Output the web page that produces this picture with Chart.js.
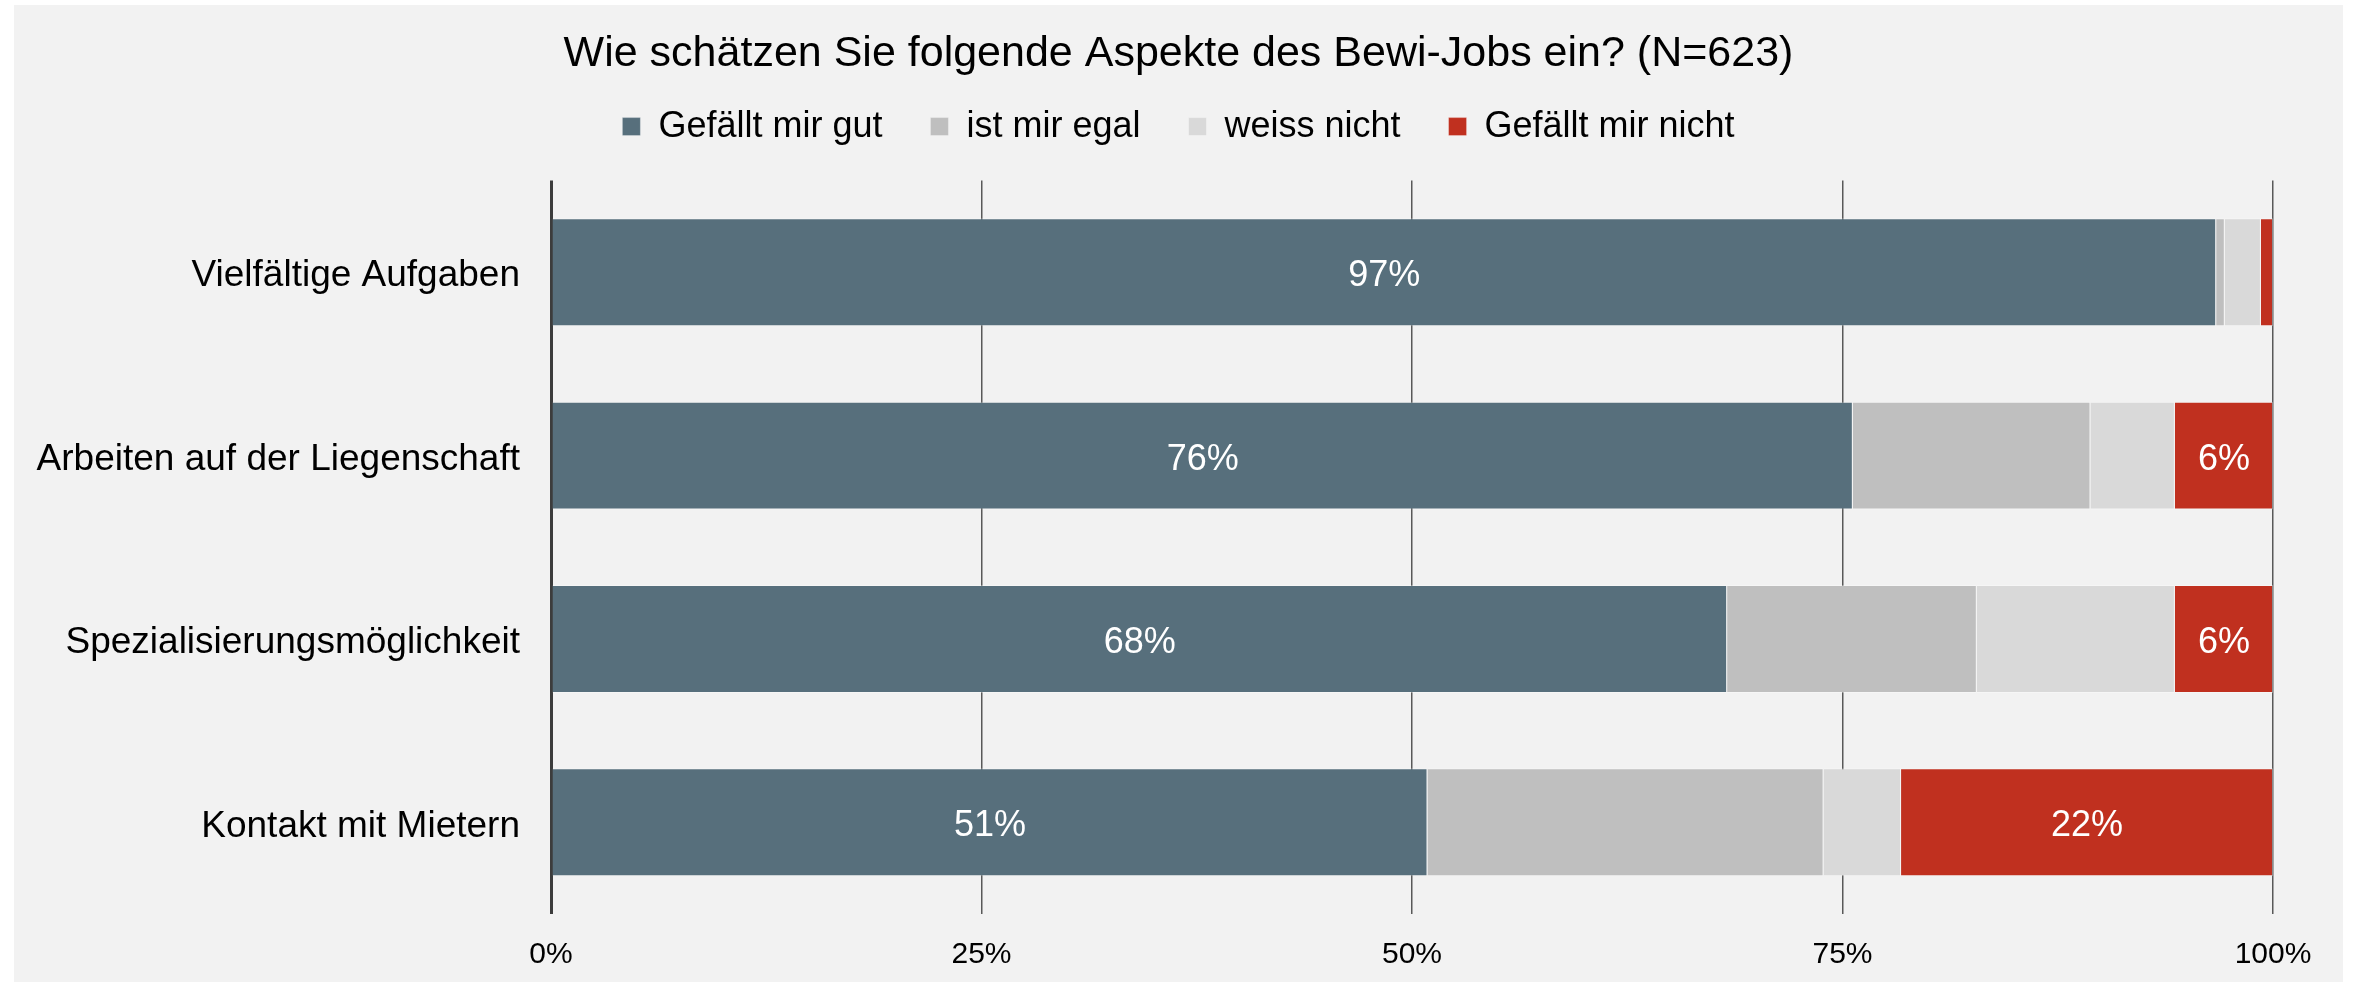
<!DOCTYPE html>
<html>
<head>
<meta charset="utf-8">
<script src="https://cdn.jsdelivr.net/npm/chart.js@4.4.1/dist/chart.umd.min.js"></script>
<style>
  html, body { margin: 0; padding: 0; background: #fff; }
  canvas { display: block; }
</style>
</head>
<body>
<canvas id="chart" width="2357" height="982"></canvas>
<script>
const categories = [
  'Vielfältige Aufgaben',
  'Arbeiten auf der Liegenschaft',
  'Spezialisierungsmöglichkeit',
  'Kontakt mit Mietern'
];
const seriesNames = ['Gefällt mir gut', 'ist mir egal', 'weiss nicht', 'Gefällt mir nicht'];
const gefaelltGut = [96.7, 75.6, 68.3, 50.9];
const egal = [0.5, 13.8, 14.5, 23.0];
const weissNicht = [2.1, 4.9, 11.5, 4.5];
const gefaelltNicht = [0.7, 5.7, 5.7, 21.6];
const xTicks = [0, 25, 50, 75, 100];

const colors = ['#576f7c', '#bfbfbf', '#d9d9d9', '#c0301f'];
const labelledSeries = [0, 3];

Chart.defaults.font.family = '"Liberation Sans", Arial, sans-serif';
Chart.defaults.color = '#000';

const background = {
  id: 'background',
  beforeDraw(chart) {
    const ctx = chart.ctx;
    ctx.save();
    ctx.fillStyle = '#ffffff';
    ctx.fillRect(0, 0, chart.width, chart.height);
    ctx.fillStyle = '#f2f2f2';
    ctx.fillRect(14, 5, 2329, chart.height - 5);
    ctx.restore();
  }
};

const legendSpacer = {
  id: 'legendSpacer',
  beforeInit(chart) {
    const fit = chart.legend.fit;
    chart.legend.fit = function () {
      fit.bind(chart.legend)();
      this.height += 26;
    };
  }
};

const barLabels = {
  id: 'barLabels',
  afterDatasetsDraw(chart) {
    const ctx = chart.ctx;
    ctx.save();
    ctx.fillStyle = '#ffffff';
    ctx.font = '36px "Liberation Sans", Arial, sans-serif';
    ctx.textAlign = 'center';
    ctx.textBaseline = 'middle';
    labelledSeries.forEach((di) => {
      const meta = chart.getDatasetMeta(di);
      meta.data.forEach((bar, i) => {
        const value = chart.data.datasets[di].data[i];
        if (value < 3) return;
        ctx.fillText(Math.round(value) + '%', (bar.x + bar.base) / 2, bar.y + 4);
      });
    });
    ctx.restore();
  }
};

const seriesData = [gefaelltGut, egal, weissNicht, gefaelltNicht];

new Chart(document.getElementById('chart'), {
  type: 'bar',
  data: {
    labels: categories,
    datasets: seriesNames.map((name, i) => ({
      label: name,
      data: seriesData[i],
      backgroundColor: colors[i],
      borderColor: 'rgba(255,255,255,0.3)',
      borderWidth: 1,
      barPercentage: 0.589,
      categoryPercentage: 1
    }))
  },
  options: {
    indexAxis: 'y',
    responsive: false,
    animation: false,
    layout: { padding: { left: 84, right: 84, top: 0, bottom: 0 } },
    plugins: {
      title: {
        display: true,
        text: 'Wie schätzen Sie folgende Aspekte des Bewi-Jobs ein? (N=623)',
        color: '#000',
        font: { size: 43, weight: 'normal' },
        padding: { top: 28, bottom: -19 }
      },
      legend: {
        display: true,
        labels: {
          boxWidth: 18,
          boxHeight: 18,
          padding: 48,
          color: '#000',
          font: { size: 36 }
        }
      },
      tooltip: { enabled: false }
    },
    scales: {
      x: {
        stacked: true,
        min: 0,
        max: 100,
        afterBuildTicks(scale) {
          scale.ticks = xTicks.map((v) => ({ value: v }));
        },
        afterFit(scale) { scale.height = 68; },
        ticks: {
          padding: 23,
          font: { size: 30 },
          color: '#000',
          callback: (v) => v + '%'
        },
        grid: {
          drawTicks: false,
          color: (c) => (c.index === 0 ? '#3c3c3c' : '#595959'),
          lineWidth: (c) => (c.index === 0 ? 3 : 1.5)
        },
        border: { display: false }
      },
      y: {
        stacked: true,
        afterFit(scale) {
          scale.width = 551 - 84;
          // labels reach past the left padding, so don't clip them
          scale._computeLabelArea = () => undefined;
        },
        ticks: {
          padding: 31,
          labelOffset: 4,
          font: { size: 37 },
          color: '#000'
        },
        grid: { display: false, drawTicks: false },
        border: { display: false }
      }
    }
  },
  plugins: [background, legendSpacer, barLabels]
});
</script>
</body>
</html>
